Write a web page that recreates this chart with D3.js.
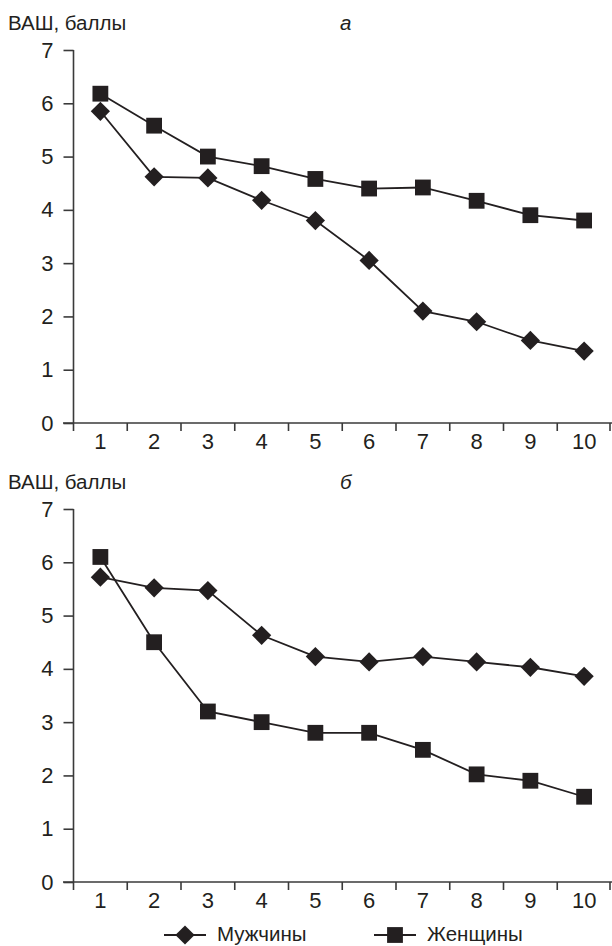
<!DOCTYPE html>
<html><head><meta charset="utf-8">
<script src="https://cdn.jsdelivr.net/npm/d3@7"></script>
<style>body{margin:0;background:#fff}svg{display:block}text{font-family:"Liberation Sans",Arial,sans-serif;fill:#231f20}</style>
</head><body><svg id="c" width="612" height="946"></svg>
<script>
const categories = [1,2,3,4,5,6,7,8,9,10];
const yTicks = [0,1,2,3,4,5,6,7];
const seriesNames = ["Мужчины","Женщины"];
const menA = [5.85,4.62,4.6,4.18,3.8,3.05,2.1,1.9,1.55,1.35];
const womenA = [6.18,5.58,5.0,4.82,4.58,4.4,4.42,4.17,3.9,3.8];
const menB = [5.72,5.52,5.47,4.63,4.23,4.13,4.23,4.13,4.03,3.86];
const womenB = [6.1,4.5,3.2,3.0,2.8,2.8,2.48,2.02,1.9,1.6];
const panelLabels = ["а","б"];
const yTitle = "ВАШ, баллы";

const svg = d3.select("#c");
const ink = "#231f20";
const x = d3.scaleBand().domain(categories).range([73.5, 611]);

function panel(top, bottom, men, women, label){
  const y = d3.scaleLinear().domain([0,7]).range([bottom, top]);
  const g = svg.append("g");
  const ya = g.append("g").attr("transform","translate(73.5,0)")
    .call(d3.axisLeft(y).tickValues(yTicks).tickSize(10).tickPadding(10).tickFormat(d3.format("d")));
  ya.select(".domain").attr("d",`M0,${y(7)}V${y(0)}`);
  const xa = g.append("g").attr("transform",`translate(0,${y(0)})`)
    .call(d3.axisBottom(x).tickSize(0).tickPadding(10.5));
  xa.select(".domain").attr("d",`M63,0H612`);
  xa.selectAll(".sep").data(categories.map(c=>x(c)).concat([x(categories[categories.length-1])+x.bandwidth()]))
    .enter().append("line").attr("class","sep")
    .attr("x1",d=>Math.min(d,610)).attr("x2",d=>Math.min(d,610)).attr("y1",0).attr("y2",8);
  g.selectAll(".domain, .tick line, .sep").attr("stroke","#3a3a3a").attr("stroke-width",1.6);
  g.selectAll(".tick text").attr("font-size",22).style("fill",ink);
  g.append("text").attr("x",8).attr("y",top-20.5).attr("font-size",20.5).text(yTitle);
  g.append("text").attr("x",340).attr("y",top-20.5).attr("font-size",20.5).attr("font-style","italic").text(label);
  const line = d3.line().x((d,i)=>x(categories[i])+x.bandwidth()/2).y(d=>y(d));
  [women, men].forEach(s=>{
    g.append("path").attr("d",line(s)).attr("fill","none").attr("stroke",ink).attr("stroke-width",1.8);
  });
  g.selectAll(".sq").data(women).enter().append("path")
    .attr("transform",(d,i)=>`translate(${x(categories[i])+x.bandwidth()/2},${y(d)})`)
    .attr("d",d3.symbol(d3.symbolSquare,250)()).attr("fill",ink);
  g.selectAll(".dm").data(men).enter().append("path")
    .attr("transform",(d,i)=>`translate(${x(categories[i])+x.bandwidth()/2},${y(d)}) rotate(45)`)
    .attr("d",d3.symbol(d3.symbolSquare,185)()).attr("fill",ink);
}
panel(50, 423, menA, womenA, panelLabels[0]);
panel(509, 882, menB, womenB, panelLabels[1]);

const lg = svg.append("g");
const items = [{x:164, name:seriesNames[0], diamond:true},{x:374, name:seriesNames[1], diamond:false}];
items.forEach(it=>{
  const cy = 935;
  lg.append("line").attr("x1",it.x).attr("x2",it.x+42).attr("y1",cy).attr("y2",cy).attr("stroke",ink).attr("stroke-width",1.8);
  lg.append("path").attr("transform",`translate(${it.x+21},${cy})${it.diamond?" rotate(45)":""}`)
    .attr("d",d3.symbol(d3.symbolSquare,it.diamond?185:250)()).attr("fill",ink);
  lg.append("text").attr("x",it.x+53).attr("y",cy+6).attr("font-size",20.5).text(it.name);
});
</script></body></html>
